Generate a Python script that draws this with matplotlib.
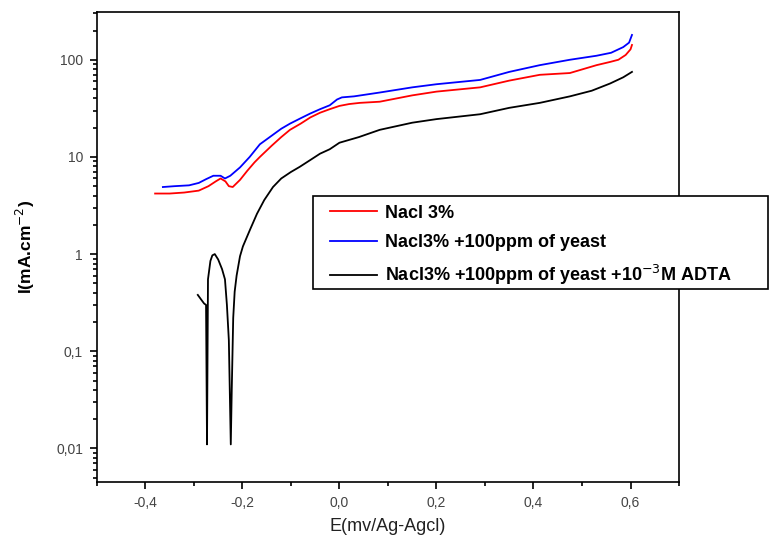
import numpy as np
import matplotlib.pyplot as plt
from matplotlib.patches import Rectangle
from matplotlib.ticker import FixedLocator, FuncFormatter, LogLocator, MultipleLocator

plt.rcParams['font.family'] = ['Liberation Sans', 'DejaVu Sans']

# courbes de polarisation
e_nacl = [-0.38, -0.35, -0.32, -0.29, -0.27, -0.255, -0.245, -0.235, -0.228, -0.22,
          -0.205, -0.19, -0.175, -0.164, -0.14, -0.12, -0.102, -0.08, -0.06, -0.04,
          -0.02, 0.0, 0.02, 0.042, 0.083, 0.15, 0.2, 0.29, 0.35, 0.413, 0.475, 0.53,
          0.558, 0.575, 0.59, 0.6, 0.603]
i_nacl = [4.2, 4.2, 4.3, 4.5, 5.0, 5.6, 6.0, 5.6, 5.0, 4.9,
          5.8, 7.2, 8.8, 10, 13, 16, 19, 22, 25.5, 28.5,
          31, 33.5, 35, 36, 37, 43, 47, 52, 61, 70, 73, 88,
          95, 100, 112, 128, 142]

e_yeast = [-0.364, -0.34, -0.31, -0.29, -0.275, -0.26, -0.245, -0.236, -0.225, -0.205,
           -0.185, -0.164, -0.14, -0.12, -0.102, -0.08, -0.06, -0.04, -0.02, -0.005,
           0.005, 0.03, 0.083, 0.15, 0.2, 0.29, 0.35, 0.413, 0.475, 0.53, 0.56,
           0.585, 0.597, 0.603]
i_yeast = [4.9, 5.0, 5.1, 5.4, 5.9, 6.4, 6.4, 6.0, 6.4, 7.8,
           10, 13.5, 16.5, 19.5, 22, 25, 28, 31, 34, 39,
           41, 42, 46, 52, 56, 62, 75, 88, 100, 110, 118,
           135, 150, 180]

e_adta = [-0.292, -0.285, -0.279, -0.275, -0.273, -0.271, -0.266, -0.262, -0.257, -0.25,
          -0.242, -0.236, -0.232, -0.228, -0.224, -0.222, -0.219, -0.216, -0.212, -0.205,
          -0.199, -0.184, -0.17, -0.155, -0.137, -0.12, -0.1, -0.082, -0.06, -0.04,
          -0.02, 0.0, 0.04, 0.083, 0.15, 0.2, 0.29, 0.35, 0.413, 0.475, 0.52,
          0.558, 0.585, 0.603]
i_adta = [0.38, 0.34, 0.31, 0.30, 0.011, 0.55, 0.85, 0.97, 1.0, 0.88,
          0.7, 0.55, 0.3, 0.13, 0.011, 0.04, 0.22, 0.41, 0.6, 0.95,
          1.2, 1.8, 2.6, 3.6, 4.9, 6.0, 7.0, 7.9, 9.3, 10.8,
          12, 14, 16, 19, 22.5, 24.5, 27.5, 32, 36, 42, 48,
          57, 66, 75]

labels = ['Nacl 3%',
          'Nacl3% +100ppm of yeast',
          'Nacl3% +100ppm of yeast +10$^{-3}$M ADTA']


def comma(v, pos):
    if v >= 1:
        return '%d' % round(v)
    s = ('%.2f' % v).rstrip('0') if v < 0.1 else '%.1f' % v
    return s.replace('.', ',')


fig = plt.figure(figsize=(7.69, 5.46), dpi=100)
ax = fig.add_axes([0.126, 0.117, 0.757, 0.861])

ax.plot(e_nacl, i_nacl, color='#ff0000', lw=1.3, label=labels[0])
ax.plot(e_yeast, i_yeast, color='#0000ff', lw=1.3, label=labels[1])
ax.plot(e_adta, i_adta, color='black', lw=1.3, label=labels[2])

ax.set_yscale('log')
ax.set_xlim(-0.5, 0.7)
ax.set_ylim(0.0045, 310)

ax.xaxis.set_major_locator(FixedLocator([-0.4, -0.2, 0.0, 0.2, 0.4, 0.6]))
ax.xaxis.set_minor_locator(MultipleLocator(0.1))
ax.xaxis.set_major_formatter(FuncFormatter(lambda v, p: ('%.1f' % v).replace('.', ',')))
ax.yaxis.set_major_locator(FixedLocator([0.01, 0.1, 1, 10, 100]))
ax.yaxis.set_minor_locator(LogLocator(base=10, subs=np.arange(2, 10)))
ax.yaxis.set_major_formatter(FuncFormatter(comma))

ax.tick_params(which='both', direction='out', top=False, right=False,
               labelsize=10, labelcolor='#444444', width=1.2)
ax.tick_params(which='major', length=5, pad=5)
ax.tick_params(which='minor', length=3)
for sp in ax.spines.values():
    sp.set_linewidth(1.2)

ax.set_xlabel('E(mv/Ag-Agcl)', fontsize=13, color='#222222', labelpad=6)
ax.set_ylabel('I(mA.cm$^{-2}$)', fontsize=12.5, fontweight='bold', labelpad=14)

# cadre de la légende (déborde à droite des axes)
box = Rectangle((0.371, 0.411), 0.782, 0.198, transform=ax.transAxes,
                facecolor='white', edgecolor='black', lw=1.2,
                clip_on=False, zorder=5)
ax.add_patch(box)

leg = ax.legend(loc='upper left', bbox_to_anchor=(0.400, 0.590),
                borderaxespad=0, borderpad=0, frameon=False,
                handlelength=2.6, handletextpad=0.45, labelspacing=0.68,
                prop={'weight': 'bold', 'size': 13})
leg.set_zorder(10)

plt.savefig('out.png', dpi=100)
